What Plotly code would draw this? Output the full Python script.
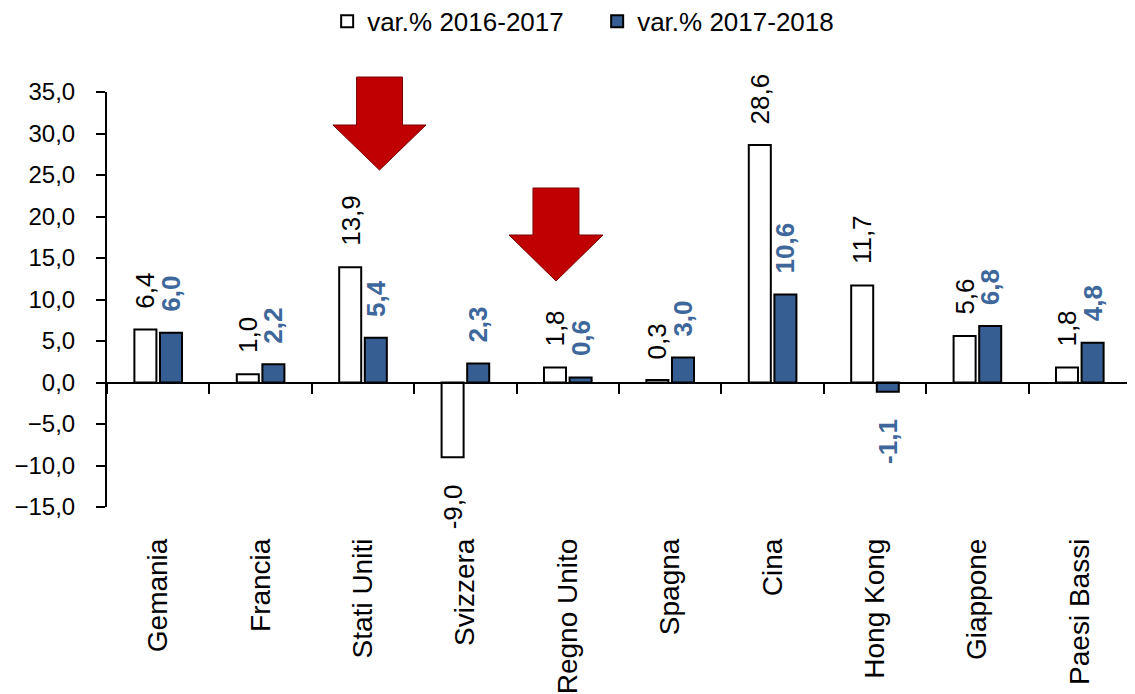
import plotly.graph_objects as go

# dati
paesi = ["Gemania", "Francia", "Stati Uniti", "Svizzera", "Regno Unito",
         "Spagna", "Cina", "Hong Kong", "Giappone", "Paesi Bassi"]
var_2016_2017 = [6.4, 1.0, 13.9, -9.0, 1.8, 0.3, 28.6, 11.7, 5.6, 1.8]
var_2017_2018 = [6.0, 2.2, 5.4, 2.3, 0.6, 3.0, 10.6, -1.1, 6.8, 4.8]
nome_1 = "var.% 2016-2017"
nome_2 = "var.% 2017-2018"
y_ticks = [-15, -10, -5, 0, 5, 10, 15, 20, 25, 30, 35]

BLU = "#365E92"
BLU_TESTO = "#3E679B"
ROSSO = "#C00000"
REG = "Liberation Sans, Arial, sans-serif"

# la pagina ha 8px di margine sul body: la figura parte da (8, 8)
OFF = 8
W, H = 1135 - OFF, 694 - OFF
# area del grafico in pixel dello schermo (per le frecce)
X0, X1, Y0, Y1 = 107, 1131, 92, 507


def fmt(v):
    return f"{v:.1f}".replace(".", ",")


def freccia(cx, top, spalla, punta, mezzo_fusto, mezza_testa):
    '''freccia rossa verso il basso, coordinate pixel -> paper'''
    px = lambda x: (x - X0) / (X1 - X0)
    py = lambda y: (Y1 - y) / (Y1 - Y0)
    punti = [(cx - mezzo_fusto, top), (cx + mezzo_fusto, top), (cx + mezzo_fusto, spalla),
             (cx + mezza_testa, spalla), (cx, punta), (cx - mezza_testa, spalla),
             (cx - mezzo_fusto, spalla)]
    path = "M " + " L ".join(f"{px(x):.4f},{py(y):.4f}" for x, y in punti) + " Z"
    return dict(type="path", path=path, xref="paper", yref="paper",
                fillcolor=ROSSO, line=dict(color="#7A0000", width=1))


fig = go.Figure()
fig.add_trace(go.Bar(x=paesi, y=var_2016_2017, name=nome_1,
                     marker=dict(color="white", line=dict(color="black", width=2))))
fig.add_trace(go.Bar(x=paesi, y=var_2017_2018, name=nome_2,
                     marker=dict(color=BLU, line=dict(color="black", width=2))))
# traccia invisibile per le etichette in basso
fig.add_trace(go.Scatter(x=paesi, y=var_2016_2017, mode="none", xaxis="x2",
                         showlegend=False, hoverinfo="skip"))

# etichette dei valori
for i, p in enumerate(paesi):
    for valori, dx, colore, bold in ((var_2016_2017, -12.8, "black", False),
                                     (var_2017_2018, 12.8, BLU_TESTO, True)):
        v = valori[i]
        testo = f"<b>{fmt(v)}</b>" if bold else fmt(v)
        fig.add_annotation(
            x=p, y=v, xref="x", yref="y", text=testo, showarrow=False,
            textangle=-90, xshift=dx,
            yanchor="bottom" if v >= 0 else "top",
            yshift=19 if v >= 0 else -25,
            font=dict(family=REG, size=26, color=colore),
        )

fig.update_layout(
    barmode="group",
    bargap=0.5,
    bargroupgap=0.14,
    separators=",.",
    width=W, height=H,
    plot_bgcolor="white", paper_bgcolor="white",
    margin=dict(l=X0 - OFF, r=1135 - X1, t=Y0 - OFF, b=694 - Y1, autoexpand=False),
    showlegend=True,
    legend=dict(orientation="h", x=0.215, xanchor="left", y=1.17, yanchor="middle",
                font=dict(family=REG, size=26, color="black"),
                entrywidth=225, entrywidthmode="pixels", traceorder="normal"),
    shapes=[freccia(379.5, 77, 125, 170, 23, 46.5),
            freccia(556, 188, 235, 281, 23, 47)],
)

# asse x sullo zero con tacche
fig.update_xaxes(
    type="category", range=[-0.5, 9.5], anchor="free", position=0.3,
    showline=True, linecolor="black", linewidth=2,
    ticks="outside", ticklen=10, tickwidth=2, tickcolor="black",
    tickson="boundaries", showticklabels=False, showgrid=False, zeroline=False,
)
# etichette delle categorie in basso
fig.update_layout(xaxis2=dict(
    type="category", overlaying="x", anchor="y", side="bottom", range=[-0.5, 9.5],
    showline=False, ticks="", showgrid=False, zeroline=False,
    tickangle=-90, ticklabelstandoff=25,
    tickfont=dict(family=REG, size=28, color="black"),
))
fig.update_yaxes(
    range=[-15, 35], tickvals=y_ticks, tickformat=".1f",
    showline=True, linecolor="black", linewidth=2,
    ticks="outside", ticklen=9, tickwidth=2, tickcolor="black",
    ticklabelstandoff=16,
    showgrid=False, zeroline=False,
    tickfont=dict(family=REG, size=24, color="black"),
)

fig.write_html("out.html")
